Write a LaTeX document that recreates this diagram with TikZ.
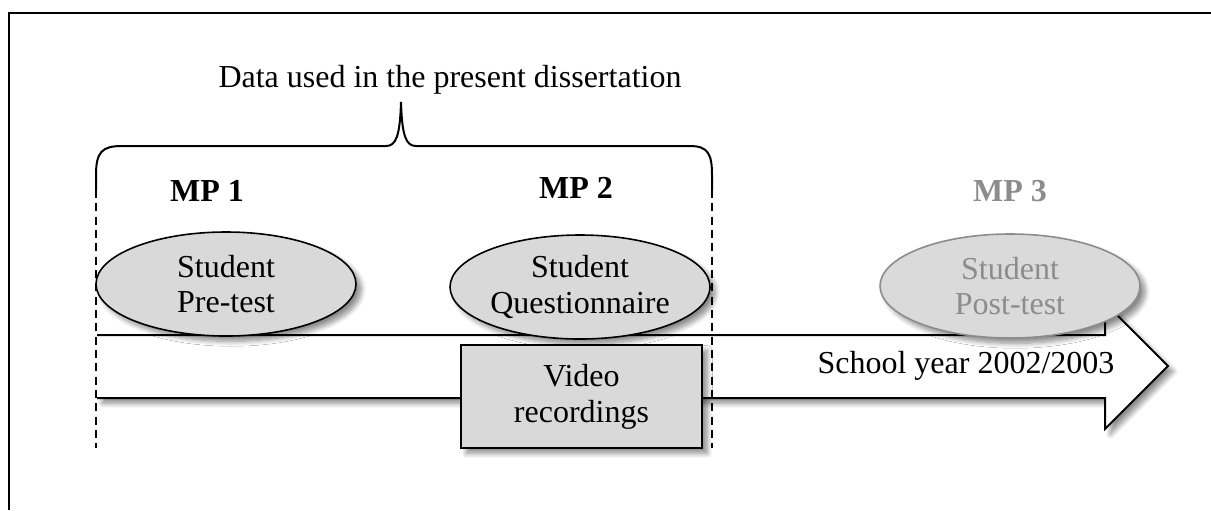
\documentclass[tikz,border=0pt]{standalone}
\usepackage{fontspec}
\setmainfont{Liberation Serif}
\usetikzlibrary{shapes.geometric,shadows.blur}
\definecolor{boxgrey}{HTML}{D9D9D9}
\definecolor{fadegrey}{HTML}{8C8C8C}
\definecolor{fadefill}{HTML}{DADADA}
\begin{document}
\begin{tikzpicture}[x=0.375pt,y=-0.375pt,
  every node/.style={font=\fontsize{12}{13.4}\selectfont, align=center},
  shade/.style={blur shadow={shadow xshift=2pt,shadow yshift=-2pt,shadow blur steps=8,shadow opacity=45}},
  oval/.style={ellipse,draw,line width=0.6pt,fill=boxgrey,inner sep=0pt,
    minimum width=97.5pt,minimum height=39pt,shade},
  fadeoval/.style={oval,draw=fadegrey,fill=fadefill,text=fadegrey},
  rectbox/.style={rectangle,draw,line width=0.6pt,fill=boxgrey,inner sep=0pt,
    minimum width=90.4pt,minimum height=38.6pt,shade},
  mplabel/.style={font=\fontsize{12}{13.2}\selectfont\bfseries},
  guide/.style={line width=0.6pt,dash pattern=on 3pt off 2pt},
  bracepath/.style={line width=0.75pt},
]
\useasboundingbox (0,0) rectangle (1211,510);
% frame
\draw[line width=0.8pt,line cap=butt] (9,510) -- (9,13) -- (1211,13);

% coordinates
\coordinate (bl) at (96,190);
\coordinate (br) at (712,190);
\coordinate (blb) at (96,448);
\coordinate (brb) at (712,448);
\coordinate (tip) at (401,102);

% brace
\draw[bracepath] (bl) -- (96,175) .. controls (96,152) and (102,146) .. (122,146)
  -- (386,146) .. controls (396,146) and (400,136) .. (tip)
  .. controls (402,136) and (406,146) .. (416,146)
  -- (690,146) .. controls (708,146) and (712,154) .. (712,175) -- (br);
\node (title) at (450,80) {Data used in the present dissertation};

% timeline arrow
\fill[white,blur shadow={shadow xshift=2pt,shadow yshift=-2pt,shadow blur steps=8,shadow opacity=45}]
  (97,335) -- (1105,335) -- (1105,303) -- (1168,366) -- (1105,429) -- (1105,398) -- (97,398) -- cycle;
\draw[line width=0.75pt,line join=miter] (97,335) -- (1105,335) -- (1105,303) -- (1168,366)
  -- (1105,429) -- (1105,398) -- (97,398);
\node (year) at (966,366) {School year 2002/2003};

% guides
\draw[guide] (bl) -- (blb);
\draw[guide] (br) -- (brb);

% MP labels
\node[mplabel] (mp1) at (207,191) {MP 1};
\node[mplabel] (mp2) at (576,188) {MP 2};
\node[mplabel,text=fadegrey] (mp3) at (1010,191) {MP 3};

% ellipses
\node[oval] (pre) at (226,284) {Student\\Pre-test};
\node[oval] (quest) at (580,287) {Student\\Questionnaire};
\node[fadeoval] (post) at (1010,286) {Student\\Post-test};

% video box
\node[rectbox] (video) at (581.5,396.5) {Video\\recordings};

% redraw right guide over ellipse/box
\draw[guide] (br) -- (brb);
\end{tikzpicture}
\end{document}
